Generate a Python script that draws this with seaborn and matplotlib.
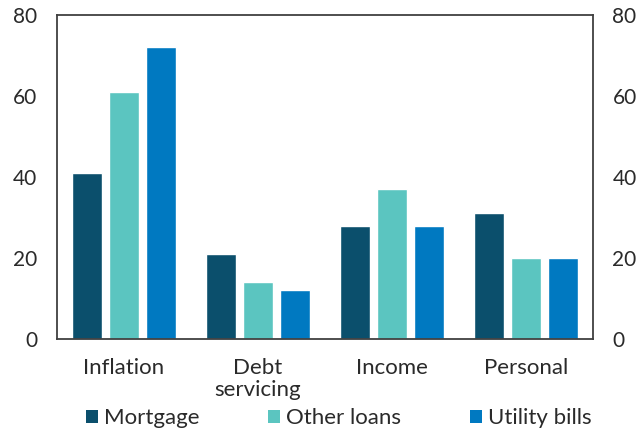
import matplotlib
matplotlib.use("Agg")
import matplotlib.pyplot as plt
import seaborn as sns
import pandas as pd
from matplotlib.patches import Patch

categories = ["Inflation", "Debt\nservicing", "Income", "Personal"]
series = ["Mortgage", "Other loans", "Utility bills"]
mortgage = [41, 21, 28, 31]
other_loans = [61, 14, 37, 20]
utility_bills = [72, 12, 28, 20]
yticks = [0, 20, 40, 60, 80]

colors = ["#0b4f6c", "#5bc5c0", "#0079c1"]

rows = []
for s, vals in zip(series, [mortgage, other_loans, utility_bills]):
    for c, v in zip(categories, vals):
        rows.append({"category": c, "series": s, "value": v})
df = pd.DataFrame(rows)

sns.set_theme(style="white")
plt.rcParams["font.family"] = ["Lato", "DejaVu Sans"]

fig = plt.figure(figsize=(6.39, 4.38), dpi=100)
ax = fig.add_axes([0.089, 0.226, 0.839, 0.740])
sns.barplot(data=df, x="category", y="value", hue="series", order=categories,
            hue_order=series, palette=colors, width=0.83, gap=0.2,
            saturation=1, ax=ax, legend=False)
ax.set_ylim(0, 80)
ax.set_yticks(yticks)
ax.set_xlim(-0.5, 3.5)
ax.set_xlabel("")
ax.set_ylabel("")
for sp in ax.spines.values():
    sp.set_visible(True)
    sp.set_color("#404040")
    sp.set_linewidth(1.3)
ax.tick_params(axis="y", length=0, pad=14, labelsize=15, colors="#2a2a2a",
               left=True, right=True, labelleft=True, labelright=True)
ax.tick_params(axis="x", length=0, pad=14, labelsize=16, colors="#2a2a2a")
for t in ax.get_xticklabels():
    t.set_linespacing(1.1)
    t.set_verticalalignment("top")

handles = [Patch(facecolor=c, edgecolor="none") for c in colors]
fig.legend(handles, series, loc="center", bbox_to_anchor=(0.53, 0.045), ncol=3,
           frameon=False, fontsize=16, handlelength=0.55, handleheight=0.55,
           handletextpad=0.25, columnspacing=3.1, borderpad=0,
           labelcolor="#2a2a2a")

fig.savefig("out.png", dpi=100)
